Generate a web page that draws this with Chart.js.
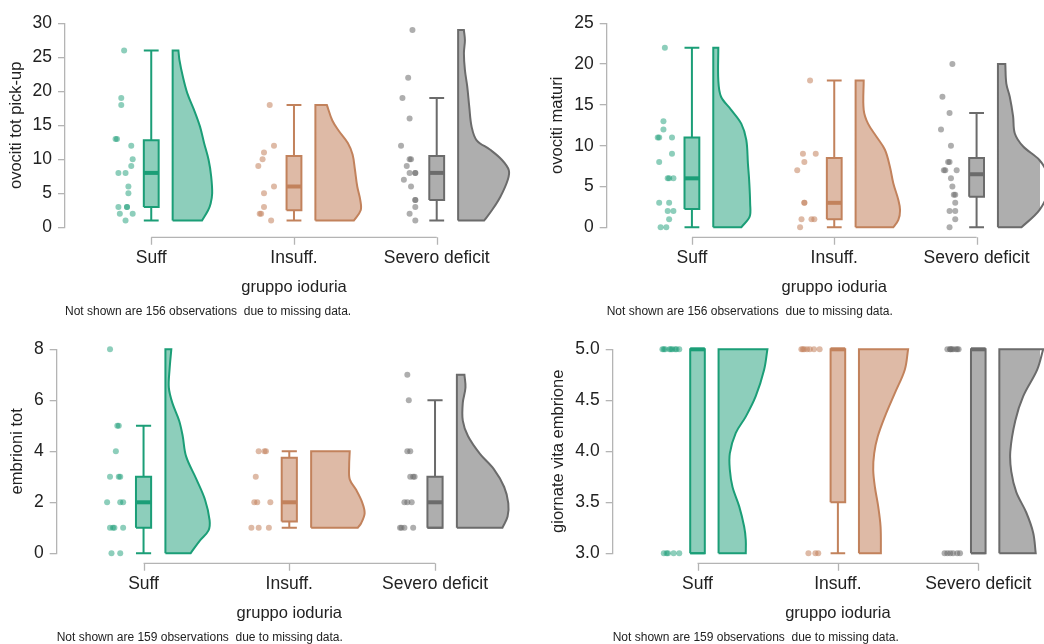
<!DOCTYPE html>
<html>
<head>
<meta charset="utf-8">
<script src="https://cdn.jsdelivr.net/npm/chart.js@4.4.1/dist/chart.umd.min.js"></script>
<style>
  html, body { margin: 0; padding: 0; background: #fff; }
  #wrap { position: relative; width: 1044px; height: 644px; overflow: hidden; }
  canvas { position: absolute; }
</style>
</head>
<body>
<div id="wrap">
  <canvas id="c1" width="522" height="322" style="left:0;top:0"></canvas>
  <canvas id="c2" width="522" height="322" style="left:522px;top:0"></canvas>
  <canvas id="c3" width="522" height="322" style="left:0;top:322px"></canvas>
  <canvas id="c4" width="522" height="322" style="left:522px;top:322px"></canvas>
</div>
<script>
'use strict';

var categories = ['Suff', 'Insuff.', 'Severo deficit'];
var xTitle = 'gruppo ioduria';

// ovociti tot pick-up
var pickupTicks = [0, 5, 10, 15, 20, 25, 30];
var pickupValues = [
    [26, 19, 18, 13, 13, 12, 10, 9, 8, 8, 6, 5, 3, 3, 3, 2, 2, 1],
    [18, 12, 11, 10, 9, 6, 5, 3, 2, 2, 1],
    [29, 22, 19, 16, 12, 10, 10, 9, 8, 8, 8, 7, 6, 4, 4, 3, 2, 1]
];
var pickupJitter = [
    [-0.19, -0.21, -0.21, -0.25, -0.24, -0.14, -0.13, -0.14, -0.23, -0.18, -0.16, -0.16, -0.23, -0.17, -0.17, -0.22, -0.13, -0.18],
    [-0.17, -0.14, -0.21, -0.22, -0.25, -0.14, -0.21, -0.21, -0.24, -0.23, -0.16],
    [-0.17, -0.20, -0.24, -0.19, -0.25, -0.19, -0.18, -0.21, -0.19, -0.15, -0.15, -0.23, -0.18, -0.15, -0.15, -0.15, -0.19, -0.15]
];
var pickupBox = [[1, 3, 8, 12.8, 26], [1, 2.5, 6, 10.5, 18], [1, 4, 8, 10.5, 19]];
var pickupDensY = [
    [26, 24.6, 22.2, 19.7, 17.3, 14.8, 12.4, 9.9, 7.5, 5, 3.5, 2.5, 1],
    [18, 15.7, 14.2, 12.4, 10.7, 8.5, 6, 4, 2.5, 1],
    [29, 27.5, 25.6, 23.1, 20.7, 17.7, 14.8, 12.8, 11.4, 9.9, 8.4, 7, 4.5, 2.5, 1]
];
var pickupDens = [
    [0.057, 0.067, 0.10, 0.145, 0.21, 0.27, 0.31, 0.355, 0.38, 0.39, 0.375, 0.35, 0.29],
    [0.113, 0.167, 0.23, 0.32, 0.367, 0.39, 0.413, 0.443, 0.447, 0.38],
    [0.057, 0.067, 0.057, 0.067, 0.09, 0.11, 0.133, 0.183, 0.317, 0.433, 0.50, 0.49, 0.417, 0.333, 0.257]
];

// ovociti maturi
var maturiTicks = [0, 5, 10, 15, 20, 25];
var maturiValues = [
    [22, 13, 12, 11, 11, 11, 9, 8, 6, 6, 6, 3, 3, 2, 2, 1, 0, 0],
    [18, 9, 9, 8, 7, 3, 3, 1, 1, 1, 0],
    [20, 16, 14, 12, 10, 8, 8, 7, 7, 7, 6, 5, 4, 4, 3, 2, 2, 1, 0]
];
var maturiJitter = [
    [-0.19, -0.20, -0.20, -0.24, -0.23, -0.14, -0.14, -0.23, -0.17, -0.16, -0.13, -0.23, -0.16, -0.17, -0.13, -0.16, -0.22, -0.18],
    [-0.17, -0.22, -0.13, -0.21, -0.26, -0.21, -0.21, -0.23, -0.16, -0.14, -0.24],
    [-0.17, -0.24, -0.19, -0.25, -0.18, -0.20, -0.19, -0.23, -0.22, -0.14, -0.18, -0.17, -0.16, -0.15, -0.15, -0.19, -0.15, -0.15, -0.19]
];
var maturiBox = [[0, 2.25, 6, 11, 22], [0, 1, 3, 8.5, 18], [0, 3.75, 6.5, 8.5, 14]];
var maturiDensY = [
    [22, 18, 16, 14.4, 12.7, 10.7, 7.8, 5.8, 2.9, 1.3, 0],
    [18, 14.4, 12.7, 11.1, 9.5, 7.4, 5.4, 3.35, 2.1, 0.9, 0],
    [20, 17.6, 16, 13.6, 11.5, 9.9, 8.25, 6.5, 4.5, 2.1, 0]
];
var maturiDens = [
    [0.05, 0.05, 0.077, 0.177, 0.277, 0.327, 0.343, 0.355, 0.365, 0.36, 0.277],
    [0.08, 0.08, 0.123, 0.207, 0.29, 0.34, 0.373, 0.423, 0.44, 0.423, 0.373],
    [0.073, 0.083, 0.117, 0.15, 0.167, 0.25, 0.41, 0.49, 0.50, 0.41, 0.233]
];

// embrioni tot
var embrioniTicks = [0, 2, 4, 6, 8];
var embrioniValues = [
    [8, 5, 5, 4, 3, 3, 3, 2, 2, 2, 1, 1, 1, 1, 0, 0],
    [4, 4, 4, 3, 2, 2, 2, 1, 1, 1],
    [7, 6, 4, 4, 3, 3, 3, 2, 2, 2, 1, 1, 1, 1]
];
var embrioniJitter = [
    [-0.23, -0.18, -0.17, -0.19, -0.23, -0.17, -0.16, -0.25, -0.16, -0.14, -0.23, -0.21, -0.20, -0.14, -0.22, -0.16],
    [-0.21, -0.17, -0.16, -0.23, -0.24, -0.22, -0.13, -0.26, -0.21, -0.14],
    [-0.19, -0.18, -0.19, -0.17, -0.17, -0.15, -0.14, -0.21, -0.19, -0.16, -0.24, -0.23, -0.21, -0.15]
];
var embrioniBox = [[0, 1, 2, 3, 5], [1, 1.25, 2, 3.75, 4], [1, 1, 2, 3, 6]];
var embrioniDensY = [
    [8, 7.2, 6.5, 5.9, 5.2, 4.6, 3.8, 2.9, 2.1, 1.3, 0.9, 0.5, 0],
    [4, 3.4, 2.9, 2.5, 2, 1.57, 1.18, 1],
    [7, 6.5, 5.9, 5.2, 4.6, 3.9, 3.3, 2.6, 1.96, 1.44, 1]
];
var embrioniDens = [
    [0.057, 0.04, 0.033, 0.067, 0.133, 0.167, 0.20, 0.30, 0.383, 0.427, 0.417, 0.333, 0.243],
    [0.373, 0.367, 0.373, 0.433, 0.493, 0.517, 0.483, 0.45],
    [0.073, 0.083, 0.057, 0.057, 0.107, 0.223, 0.357, 0.457, 0.497, 0.49, 0.44]
];

// giornate vita embrione
var giornateTicks = [3, 3.5, 4, 4.5, 5];
var giornateValues = [
    [5, 5, 5, 5, 5, 5, 5, 5, 5, 3, 3, 3, 3, 3],
    [5, 5, 5, 5, 5, 5, 5, 3, 3, 3],
    [5, 5, 5, 5, 5, 5, 5, 5, 3, 3, 3, 3, 3, 3]
];
var giornateJitter = [
    [-0.25, -0.24, -0.23, -0.20, -0.19, -0.18, -0.16, -0.15, -0.13, -0.24, -0.22, -0.21, -0.17, -0.13],
    [-0.26, -0.25, -0.24, -0.22, -0.20, -0.17, -0.13, -0.21, -0.16, -0.14],
    [-0.22, -0.20, -0.19, -0.18, -0.16, -0.15, -0.14, -0.20, -0.24, -0.22, -0.20, -0.18, -0.15, -0.13]
];
var giornateBox = [[3, 3, 5, 5, 5], [3, 3.5, 5, 5, 5], [3, 3, 5, 5, 5]];
var giornateDensY = [
    [5, 4.8, 4.54, 4.34, 4.18, 3.98, 3.82, 3.65, 3.46, 3.26, 3.13, 3],
    [5, 4.8, 4.57, 4.34, 4.14, 3.98, 3.82, 3.65, 3.46, 3.26, 3],
    [5, 4.8, 4.54, 4.3, 4, 3.8, 3.6, 3.4, 3.2, 3]
];
var giornateDens = [
    [0.49, 0.457, 0.373, 0.273, 0.173, 0.113, 0.113, 0.14, 0.207, 0.257, 0.273, 0.273],
    [0.493, 0.46, 0.36, 0.26, 0.187, 0.153, 0.143, 0.16, 0.193, 0.217, 0.22],
    [0.44, 0.38, 0.24, 0.16, 0.11, 0.12, 0.17, 0.27, 0.34, 0.365]
];

var colours = [
    { line: '#1b9e77', fill: 'rgba(27,158,119,0.5)' },
    { line: '#c2825c', fill: 'rgba(194,130,92,0.55)' },
    { line: '#6b6b6b', fill: 'rgba(107,107,107,0.55)' }
];
var axisColour = '#b4b4b4';
var textColour = '#222';
var boxHalf = 0.052;
var violinGap = 0.15;
var violinScale = 0.71;

Chart.defaults.font.family = '"Liberation Sans", Arial, sans-serif';

var panels = [
    { id: 'c1', yTitle: 'ovociti tot pick-up', note: 'Not shown are 156 observations  due to missing data.',
      ticks: pickupTicks, values: pickupValues, jitter: pickupJitter, box: pickupBox, densY: pickupDensY, dens: pickupDens,
      decimals: 0, axisX: 65, top: 23.3, bottom: 227.3, cat1: 152, cat3: 440, titleX: 16 },
    { id: 'c2', yTitle: 'ovociti maturi', note: 'Not shown are 156 observations  due to missing data.',
      ticks: maturiTicks, values: maturiValues, jitter: maturiJitter, box: maturiBox, densY: maturiDensY, dens: maturiDens,
      decimals: 0, axisX: 84.7, top: 23.3, bottom: 227.3, cat1: 170.7, cat3: 458, titleX: 35 },
    { id: 'c3', yTitle: 'embrioni tot', note: 'Not shown are 159 observations  due to missing data.',
      ticks: embrioniTicks, values: embrioniValues, jitter: embrioniJitter, box: embrioniBox, densY: embrioniDensY, dens: embrioniDens,
      decimals: 0, axisX: 56.7, top: 27.3, bottom: 231.3, cat1: 144.3, cat3: 438.3, titleX: 17 },
    { id: 'c4', yTitle: 'giornate vita embrione', note: 'Not shown are 159 observations  due to missing data.',
      ticks: giornateTicks, values: giornateValues, jitter: giornateJitter, box: giornateBox, densY: giornateDensY, dens: giornateDens,
      decimals: 1, axisX: 90.7, top: 27.3, bottom: 231.3, cat1: 176.3, cat3: 459.7, titleX: 36 }
];

function buildDatasets(p) {
    var sets = [];
    categories.forEach(function (name, g) {
        var c = g + 1;
        var col = colours[g];
        var b = p.box[g];
        var lo = c - boxHalf, hi = c + boxHalf;

        sets.push({
            type: 'scatter',
            data: p.values[g].map(function (v, i) { return { x: c + p.jitter[g][i], y: v }; }),
            backgroundColor: col.fill, borderWidth: 0, pointRadius: 3, order: 6
        });
        // whiskers and caps
        sets.push({
            type: 'line',
            data: [
                { x: c, y: b[3] }, { x: c, y: b[4] }, { x: c, y: null },
                { x: lo, y: b[4] }, { x: hi, y: b[4] }, { x: c, y: null },
                { x: c, y: b[1] }, { x: c, y: b[0] }, { x: c, y: null },
                { x: lo, y: b[0] }, { x: hi, y: b[0] }
            ],
            borderColor: col.line, borderWidth: 2, pointRadius: 0, fill: false, spanGaps: false, tension: 0, order: 5
        });
        // box
        sets.push({
            type: 'line',
            data: [{ x: lo, y: b[1] }, { x: hi, y: b[1] }, { x: hi, y: b[3] }, { x: lo, y: b[3] }, { x: lo, y: b[1] }],
            borderColor: col.line, backgroundColor: col.fill, borderWidth: 2, pointRadius: 0, fill: 'shape', tension: 0, order: 4
        });
        // median
        sets.push({
            type: 'line',
            data: [{ x: lo, y: b[2] }, { x: hi, y: b[2] }],
            borderColor: col.line, borderWidth: 4, pointRadius: 0, fill: false, tension: 0, order: 1
        });
        // half violin
        var ys = p.densY[g], ds = p.dens[g];
        var left = c + violinGap;
        var yTop = ys[0], yBot = ys[ys.length - 1];
        var pts = [{ x: left, y: yBot }, { x: left, y: yTop }, { x: left, y: yTop }];
        ys.forEach(function (y, i) {
            var pt = { x: left + ds[i] * violinScale, y: y };
            pts.push(pt);
            if (i === 0 || i === ys.length - 1) pts.push({ x: pt.x, y: pt.y });
        });
        pts.push({ x: left, y: yBot });
        sets.push({
            type: 'line',
            data: pts,
            borderColor: col.line, backgroundColor: col.fill, borderWidth: 2, pointRadius: 0,
            fill: 'shape', tension: 0.35, capBezierPoints: false, order: 3
        });
    });
    sets.forEach(function (s) { s.clip = false; });
    return sets;
}

var extras = {
    id: 'extras',
    afterDraw: function (chart, args, opts) {
        var ctx = chart.ctx, area = chart.chartArea, x = chart.scales.x;
        var y0 = area.bottom + 10;
        ctx.save();
        ctx.strokeStyle = axisColour;
        ctx.lineWidth = 1.3;
        ctx.beginPath();
        ctx.moveTo(x.getPixelForValue(1), y0);
        ctx.lineTo(x.getPixelForValue(3), y0);
        [1, 2, 3].forEach(function (v) {
            var px = Math.round(x.getPixelForValue(v)) + 0.5;
            ctx.moveTo(px, y0);
            ctx.lineTo(px, y0 + 7.5);
        });
        ctx.stroke();
        ctx.fillStyle = textColour;
        ctx.textBaseline = 'middle';
        ctx.textAlign = 'center';
        ctx.font = '16.5px "Liberation Sans", Arial, sans-serif';
        ctx.fillText(opts.xTitle, x.getPixelForValue(2), area.bottom + 60.5);
        ctx.textAlign = 'left';
        ctx.font = '12px "Liberation Sans", Arial, sans-serif';
        ctx.fillText(opts.note, area.left, area.bottom + 84);
        ctx.restore();
    }
};

panels.forEach(function (p) {
    var canvas = document.getElementById(p.id);
    var W = canvas.width, H = canvas.height;
    var unit = (p.cat3 - p.cat1) / 2;
    new Chart(canvas, {
        type: 'scatter',
        data: { datasets: buildDatasets(p) },
        options: {
            responsive: false,
            animation: false,
            events: [],
            layout: { padding: { top: p.top, left: 0, right: 0, bottom: 0 } },
            plugins: {
                legend: { display: false },
                tooltip: { enabled: false },
                extras: { xTitle: xTitle, note: p.note }
            },
            scales: {
                x: {
                    type: 'linear',
                    min: 1 - (p.cat1 - p.axisX) / unit,
                    max: 3 + (W - p.cat3) / unit,
                    afterBuildTicks: function (s) { s.ticks = [1, 2, 3].map(function (v) { return { value: v }; }); },
                    afterFit: function (s) {
                        s.height = H - p.bottom;
                        s.paddingLeft = 0;
                        s.paddingRight = 0;
                    },
                    grid: { display: false, drawTicks: false },
                    border: { display: false },
                    ticks: {
                        color: textColour, font: { size: 17.5 }, padding: 20, maxRotation: 0, autoSkip: false,
                        callback: function (v) { return categories[v - 1]; }
                    }
                },
                y: {
                    type: 'linear',
                    min: p.ticks[0],
                    max: p.ticks[p.ticks.length - 1],
                    afterBuildTicks: function (s) { s.ticks = p.ticks.map(function (v) { return { value: v }; }); },
                    afterFit: function (s) { s.width = p.axisX; },
                    grid: { drawOnChartArea: false, drawTicks: true, tickLength: 7, color: axisColour, lineWidth: 1.3 },
                    border: { display: true, color: axisColour, width: 1.3 },
                    ticks: {
                        color: textColour, font: { size: 17.5 }, padding: 6,
                        callback: function (v) { return Number(v).toFixed(p.decimals); }
                    },
                    title: {
                        display: true, text: p.yTitle, color: textColour, font: { size: 16.5 },
                        padding: { top: p.titleX - 9.9, bottom: 0 }
                    }
                }
            }
        },
        plugins: [extras]
    });
});
</script>
</body>
</html>
